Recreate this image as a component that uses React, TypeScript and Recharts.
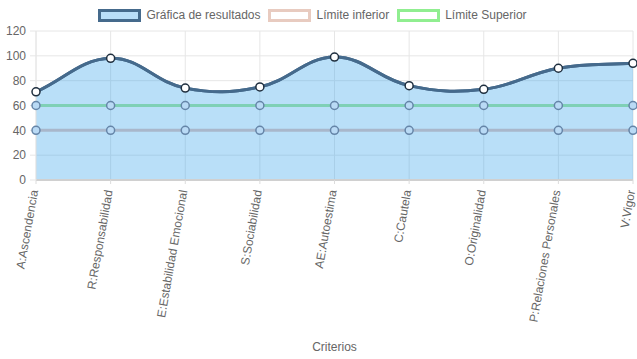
import {
  ComposedChart,
  Area,
  Line,
  XAxis,
  YAxis,
  CartesianGrid,
  Legend,
} from "recharts";

const categories = [
  "A:Ascendencia",
  "R:Responsabilidad",
  "E:Estabilidad Emocional",
  "S:Sociabilidad",
  "AE:Autoestima",
  "C:Cautela",
  "O:Originalidad",
  "P:Relaciones Personales",
  "V:Vigor",
];
const resultados = [71, 98, 74, 75, 99, 76, 73, 90, 94];
const limiteInferior = [40, 40, 40, 40, 40, 40, 40, 40, 40];
const limiteSuperior = [60, 60, 60, 60, 60, 60, 60, 60, 60];
const yTicks = [0, 20, 40, 60, 80, 100, 120];

const data = categories.map((name, i) => ({
  name,
  resultados: resultados[i],
  inferior: limiteInferior[i],
  superior: limiteSuperior[i],
}));

const FONT = "'Liberation Sans', Arial, Helvetica, sans-serif";

// spline like chart.js (tension 0.4), written as a d3 curve factory
function splineCurve(context: any) {
  let pts: number[][] = [];
  let lineMode = NaN;
  const t = 0.4;
  return {
    areaStart() {
      lineMode = 0;
    },
    areaEnd() {
      lineMode = NaN;
    },
    lineStart() {
      pts = [];
    },
    point(x: number, y: number) {
      pts.push([+x, +y]);
    },
    lineEnd() {
      const n = pts.length;
      if (n) {
        if (lineMode) context.lineTo(pts[0][0], pts[0][1]);
        else context.moveTo(pts[0][0], pts[0][1]);
        const cps = pts.map((p, i) => {
          const p0 = pts[i - 1] || p;
          const p2 = pts[i + 1] || p;
          const d01 = Math.hypot(p[0] - p0[0], p[1] - p0[1]);
          const d12 = Math.hypot(p2[0] - p[0], p2[1] - p[1]);
          let s01 = d01 / (d01 + d12);
          let s12 = d12 / (d01 + d12);
          if (isNaN(s01)) s01 = 0;
          if (isNaN(s12)) s12 = 0;
          const fa = t * s01;
          const fb = t * s12;
          return {
            prev: [p[0] - fa * (p2[0] - p0[0]), p[1] - fa * (p2[1] - p0[1])],
            next: [p[0] + fb * (p2[0] - p0[0]), p[1] + fb * (p2[1] - p0[1])],
          };
        });
        for (let i = 1; i < n; i++) {
          const a = cps[i - 1].next;
          const b = cps[i].prev;
          context.bezierCurveTo(a[0], a[1], b[0], b[1], pts[i][0], pts[i][1]);
        }
      }
      if (lineMode || (lineMode !== 0 && n === 1)) context.closePath();
      lineMode = 1 - lineMode;
    },
  };
}

const legendItems = [
  { label: "Gráfica de resultados", fill: "#b9def8", border: "#456a8c" },
  { label: "Límite inferior", fill: "#ffffff", border: "#e8cbc0" },
  { label: "Límite Superior", fill: "#ffffff", border: "#90ee90" },
];

function LegendContent() {
  return (
    <div
      style={{
        height: 31,
        display: "flex",
        justifyContent: "center",
        alignItems: "flex-start",
        paddingTop: 8,
        boxSizing: "border-box",
        fontFamily: FONT,
        fontSize: 12,
        color: "#666",
      }}
    >
      {legendItems.map((it) => (
        <div
          key={it.label}
          style={{ display: "flex", alignItems: "center", marginRight: 8 }}
        >
          <span
            style={{
              display: "inline-block",
              width: 43,
              height: 13,
              boxSizing: "border-box",
              border: `3px solid ${it.border}`,
              background: it.fill,
              marginRight: 5,
            }}
          />
          <span>{it.label}</span>
        </div>
      ))}
    </div>
  );
}

function XTick(props: any) {
  const { x, y, payload } = props;
  return (
    <text
      transform={`translate(${x - 2},${y + 4}) rotate(-80)`}
      textAnchor="end"
      dy="0.35em"
      fontSize={12}
      fontFamily={FONT}
      fill="#666"
    >
      {payload.value}
    </text>
  );
}

// the limit lines sit under the translucent fill in the original,
// so their colours are given here already blended with it
const limitDot = { r: 4, fill: "#b9daf5", stroke: "#6585a8", strokeWidth: 1.5 };

export default function App() {
  return (
    <div style={{ position: "absolute", left: 0, top: 0 }}>
      <ComposedChart
        width={637}
        height={359}
        data={data}
        margin={{ top: 0, right: 4, bottom: 0, left: 0 }}
      >
        <Legend
          verticalAlign="top"
          align="center"
          height={31}
          content={<LegendContent />}
        />
        <CartesianGrid stroke="#e6e6e6" />
        <XAxis
          dataKey="name"
          interval={0}
          height={179}
          tick={<XTick />}
          tickSize={4}
          tickLine={{ stroke: "#dcdcdc" }}
          axisLine={{ stroke: "#d0d0d0", strokeWidth: 2 }}
          label={{
            value: "Criterios",
            position: "insideBottom",
            offset: 8,
            fill: "#666",
            fontSize: 12,
            fontFamily: FONT,
          }}
        />
        <YAxis
          width={36}
          domain={[0, 120]}
          ticks={yTicks}
          interval={0}
          tickSize={6}
          tickMargin={4}
          tickLine={{ stroke: "#e6e6e6" }}
          axisLine={{ stroke: "#e6e6e6" }}
          tick={{ fill: "#666", fontSize: 12, fontFamily: FONT }}
        />
        <Area
          dataKey="resultados"
          type={splineCurve as any}
          stroke="#456a8c"
          strokeWidth={3}
          fill="#36a2eb"
          fillOpacity={0.35}
          dot={false}
          isAnimationActive={false}
        />
        <Line
          dataKey="inferior"
          type="linear"
          stroke="#a9b7cb"
          strokeWidth={3}
          dot={limitDot}
          isAnimationActive={false}
        />
        <Line
          dataKey="superior"
          type="linear"
          stroke="#7fd0b6"
          strokeWidth={3}
          dot={limitDot}
          isAnimationActive={false}
        />
        <Line
          dataKey="resultados"
          type={splineCurve as any}
          stroke="#456a8c"
          strokeWidth={3}
          dot={{ r: 4, fill: "#ffffff", stroke: "#1f2f3f", strokeWidth: 1.5 }}
          isAnimationActive={false}
        />
      </ComposedChart>
    </div>
  );
}
